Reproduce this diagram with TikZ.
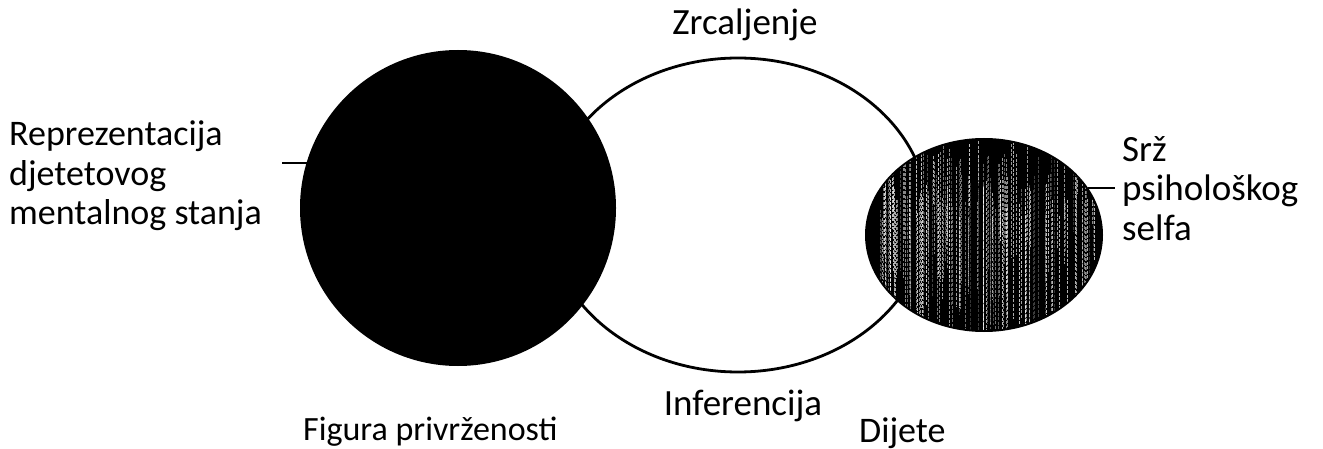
\documentclass[tikz,border=0pt]{standalone}
\usepackage{fontspec}
\setmainfont{Carlito}
\usetikzlibrary{shapes.geometric}
\tikzset{
  lbl/.style={font=\fontsize{#1}{40}\selectfont, anchor=base west, inner sep=0pt},
  lbl/.default=36,
  tick/.style={line width=1.8pt, black},
}
\begin{document}
\begin{tikzpicture}[x=1pt,y=-1pt]
\useasboundingbox[fill=white] (0,0) rectangle (1323,449);
% white ellipse (mirroring / inference)
\node[ellipse, draw=black, line width=2.8pt, fill=white, minimum width=380pt, minimum height=314pt, inner sep=0pt, outer sep=0pt] (mid) at (738,215) {};
% attachment figure
\node[circle, fill=black, minimum size=316pt, inner sep=0pt, outer sep=0pt] (fig) at (458,208) {};
% child (self)
\node[ellipse, fill=black, minimum width=238pt, minimum height=194pt, inner sep=0pt, outer sep=0pt] (self) at (984,235) {};
\begin{scope}
  \clip (984,235) ellipse (117 and 95);
  \pgfmathsetseed{11}
  \foreach \i in {1,...,160}{
    \pgfmathsetmacro{\xx}{880+rnd*215}
    \pgfmathsetmacro{\ya}{140+rnd*80}
    \pgfmathsetmacro{\yb}{\ya+40+rnd*180}
    \pgfmathsetmacro{\op}{0.2+0.6*rnd}
    \pgfmathsetmacro{\lw}{0.3+0.8*rnd}
    \draw[white, opacity=\op, line width=\lw pt, dash pattern=on 3pt off 1.5pt] (\xx,\ya) -- (\xx,\yb);
  }
\end{scope}
% ticks
\coordinate (lt) at (282,163);
\coordinate (rt) at (1115,188);
\draw[tick] (lt) -- (lt -| fig.163.4);
\draw[tick] (rt -| self.24) -- (rt);
% labels
\node[lbl] (repr) at (9,146) {Reprezentacija};
\node[lbl] (repr2) at (9,186) {djetetovog};
\node[lbl] (repr3) at (9,225) {mentalnog stanja};
\node[lbl=37] (srz) at (1122,162) {Srž};
\node[lbl=37] (srz2) at (1122,201) {psihološkog};
\node[lbl=37] (srz3) at (1122,241) {selfa};
\node[lbl=37, anchor=base] (zrc) at (745,35) {Zrcaljenje};
\node[lbl=37, anchor=base] (inf) at (743,415) {Inferencija};
\node[lbl=34] (fig-l) at (303,440) {Figura privrženosti};
\node[lbl] (dij) at (859,442) {Dijete};
\end{tikzpicture}
\end{document}
